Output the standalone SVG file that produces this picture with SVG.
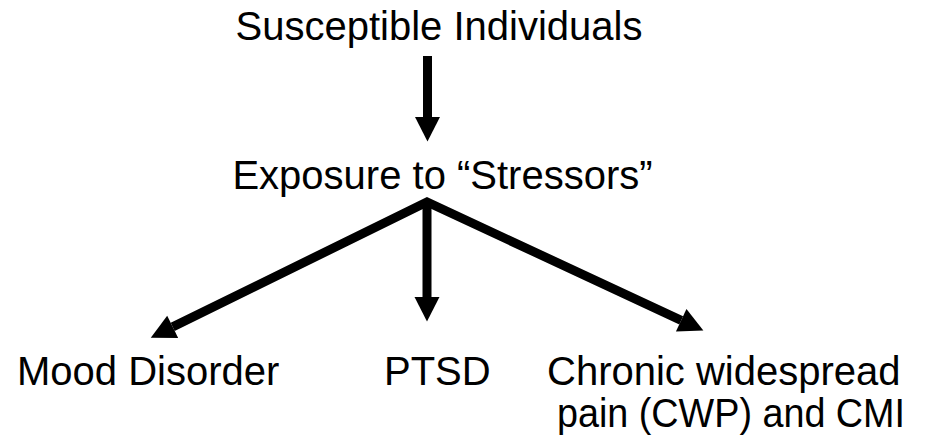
<svg xmlns="http://www.w3.org/2000/svg" width="927" height="440" viewBox="0 0 927 440">
<style>
text{font-family:"Liberation Sans",Arial,sans-serif;font-size:40px;fill:#000}
.c{stroke:#000;stroke-width:9;fill:none;stroke-linejoin:miter;stroke-miterlimit:10}
</style>
<defs>
<marker id="ah" markerUnits="userSpaceOnUse" markerWidth="26" markerHeight="26" viewBox="0 -12.5 24 25" refX="0" refY="0" orient="auto-start-reverse">
<path d="M0,-12 L23.5,0 L0,12 Z" fill="#000"/>
</marker>
</defs>
<rect width="927" height="440" fill="#fff"/>
<g id="susceptible"><text x="439" y="40" text-anchor="middle">Susceptible Individuals</text></g>
<g id="exposure"><text x="442.5" y="189" text-anchor="middle">Exposure to “Stressors”</text></g>
<g id="mood"><text x="17" y="385">Mood Disorder</text></g>
<g id="ptsd"><text x="384" y="385">PTSD</text></g>
<g id="cwp"><text x="547" y="385">Chronic widespread</text><text x="557" y="427" textLength="348" lengthAdjust="spacingAndGlyphs">pain (CWP) and CMI</text></g>
<g id="connectors">
<path class="c" d="M427.5,56 L427.5,117" marker-end="url(#ah)"/>
<path class="c" d="M172.7,326.9 L427,202 L681.2,320.3" marker-start="url(#ah)" marker-end="url(#ah)"/>
<path class="c" d="M427,202 L427,297" marker-end="url(#ah)"/>
</g>
</svg>
